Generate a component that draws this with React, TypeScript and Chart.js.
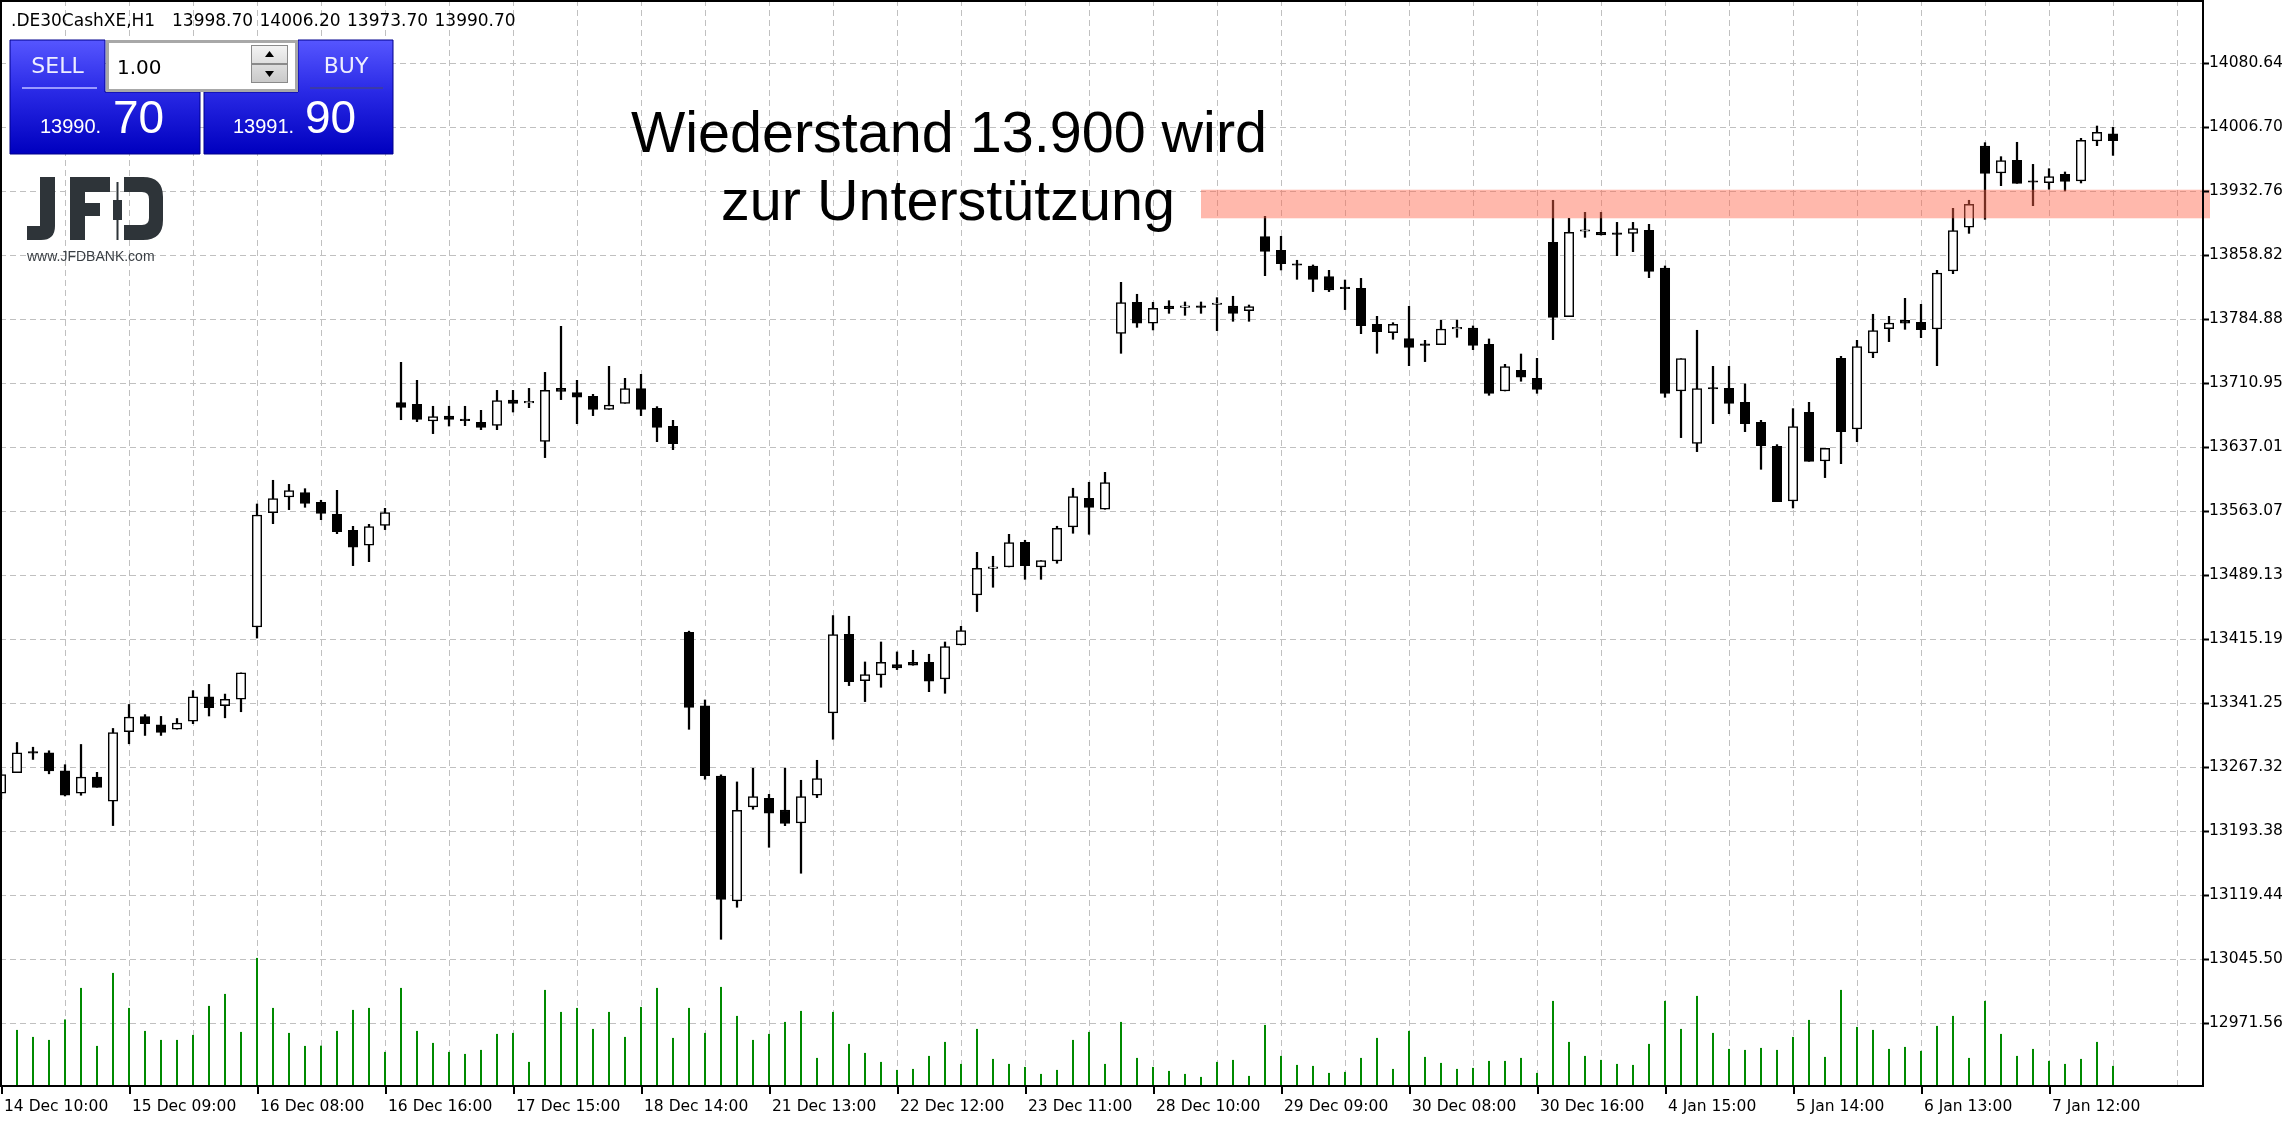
import React, { useEffect, useRef } from 'react';
import { Chart, registerables } from 'chart.js';

Chart.register(...registerables);

// ---------- data ----------
const opens = [
  13236.8, 13260.5, 13283.5, 13283.4, 13262.5, 13236.8, 13255.3, 13227.6, 13307.9, 13325.2,
  13315.9, 13310.8, 13320.0, 13348.1, 13338.0, 13345.3, 13428.8, 13560.9, 13579.0, 13584.0,
  13572.8, 13559.0, 13540.5, 13523.2, 13546.3, 13688.0, 13686.1, 13666.8, 13672.6, 13667.5,
  13665.3, 13661.8, 13691.1, 13687.8, 13643.3, 13704.5, 13699.5, 13695.3, 13680.3, 13687.2,
  13704.2, 13681.4, 13660.6, 13422.7, 13337.6, 13256.7, 13112.3, 13220.9, 13230.9, 13217.4,
  13202.4, 13234.4, 13329.5, 13420.4, 13366.9, 13373.4, 13385.3, 13388.0, 13388.0, 13368.8,
  13408.1, 13465.8, 13496.6, 13498.2, 13526.7, 13498.2, 13505.1, 13544.4, 13577.5, 13564.8,
  13768.1, 13803.9, 13779.7, 13799.7, 13798.1, 13798.3, 13801.4, 13799.7, 13794.3, 13879.8,
  13864.0, 13846.9, 13845.9, 13833.6, 13819.9, 13820.1, 13778.5, 13768.9, 13761.9, 13755.8,
  13755.0, 13773.3, 13774.3, 13755.4, 13701.5, 13725.4, 13716.1, 13873.2, 13787.4, 13886.0,
  13884.8, 13882.8, 13883.6, 13887.1, 13843.6, 13701.5, 13641.0, 13704.0, 13704.6, 13688.4,
  13665.3, 13637.6, 13574.4, 13676.8, 13620.6, 13739.2, 13657.6, 13745.4, 13773.5, 13783.1,
  13780.8, 13773.1, 13840.1, 13890.6, 13984.5, 13953.3, 13968.0, 13942.8, 13942.2, 13951.8,
  13944.1, 13990.3, 13998.7,
];
const highs = [
  13264.0, 13295.4, 13289.9, 13285.8, 13269.7, 13293.1, 13260.9, 13311.6, 13339.3, 13327.6,
  13325.5, 13323.1, 13355.3, 13362.5, 13351.3, 13375.8, 13570.9, 13598.3, 13593.6, 13588.6,
  13575.2, 13586.7, 13545.1, 13547.4, 13565.9, 13734.6, 13713.8, 13683.8, 13683.8, 13683.8,
  13679.1, 13702.2, 13702.2, 13704.5, 13723.0, 13776.2, 13713.8, 13697.6, 13730.0, 13716.1,
  13720.7, 13683.4, 13667.6, 13424.0, 13344.5, 13258.0, 13249.8, 13265.6, 13235.5, 13265.6,
  13251.7, 13274.8, 13442.0, 13441.2, 13388.4, 13411.5, 13400.0, 13401.9, 13397.3, 13411.5,
  13429.6, 13515.1, 13510.5, 13535.9, 13529.0, 13505.5, 13545.2, 13589.1, 13596.0, 13607.5,
  13827.0, 13813.2, 13803.9, 13805.8, 13804.3, 13804.3, 13809.3, 13810.9, 13800.8, 13903.3,
  13880.2, 13852.5, 13847.1, 13840.9, 13829.7, 13831.6, 13787.7, 13780.4, 13799.3, 13760.0,
  13783.1, 13783.5, 13776.6, 13761.6, 13732.3, 13744.2, 13739.2, 13921.8, 13901.0, 13907.9,
  13907.9, 13896.3, 13896.3, 13894.0, 13845.9, 13738.8, 13771.6, 13730.0, 13730.0, 13709.6,
  13667.6, 13639.5, 13681.1, 13688.4, 13635.2, 13741.5, 13760.0, 13790.1, 13787.7, 13808.5,
  13801.6, 13840.9, 13912.5, 13921.8, 13988.4, 13972.2, 13988.8, 13963.3, 13958.3, 13954.5,
  13993.4, 14007.6, 14006.2,
];
const lows = [
  13230.0, 13260.5, 13275.8, 13259.2, 13233.6, 13234.4, 13243.6, 13199.4, 13293.9, 13303.5,
  13303.5, 13310.8, 13317.1, 13326.0, 13323.9, 13330.9, 13416.0, 13548.2, 13564.4, 13567.1,
  13552.8, 13536.6, 13499.7, 13504.3, 13541.3, 13668.3, 13666.0, 13652.2, 13661.0, 13661.4,
  13656.8, 13656.8, 13677.2, 13682.2, 13624.5, 13691.5, 13663.7, 13673.0, 13680.3, 13687.2,
  13673.0, 13642.9, 13633.7, 13310.6, 13252.9, 13068.0, 13105.0, 13218.2, 13174.3, 13199.3,
  13144.3, 13231.7, 13299.1, 13361.1, 13342.6, 13359.2, 13379.6, 13384.6, 13354.1, 13352.2,
  13408.1, 13446.6, 13474.7, 13498.2, 13483.9, 13483.9, 13502.4, 13537.1, 13535.9, 13564.8,
  13745.0, 13775.0, 13772.0, 13791.2, 13788.9, 13791.2, 13771.2, 13782.0, 13782.0, 13834.7,
  13841.3, 13830.5, 13816.3, 13816.3, 13795.5, 13767.7, 13745.0, 13761.2, 13730.7, 13735.4,
  13755.0, 13763.5, 13749.2, 13696.5, 13701.5, 13712.7, 13698.8, 13760.8, 13787.4, 13879.0,
  13881.7, 13857.8, 13862.4, 13832.4, 13694.2, 13647.6, 13631.4, 13663.7, 13675.3, 13654.5,
  13611.0, 13573.6, 13566.3, 13620.2, 13601.4, 13617.5, 13642.9, 13740.0, 13758.5, 13772.7,
  13763.1, 13730.7, 13837.0, 13883.6, 13899.8, 13938.7, 13941.4, 13915.6, 13934.5, 13932.6,
  13941.8, 13984.9, 13973.7,
];
const closes = [
  13258.4, 13283.4, 13283.0, 13262.5, 13234.4, 13255.3, 13243.6, 13306.7, 13324.7, 13317.1,
  13307.1, 13317.9, 13348.1, 13335.6, 13345.3, 13375.8, 13558.2, 13577.1, 13586.3, 13571.7,
  13560.1, 13539.0, 13520.9, 13544.7, 13560.9, 13682.6, 13668.7, 13671.8, 13668.7, 13667.2,
  13659.5, 13690.3, 13687.2, 13688.0, 13702.2, 13701.1, 13694.2, 13680.3, 13685.3, 13704.2,
  13680.3, 13659.5, 13640.6, 13336.0, 13257.1, 13114.2, 13217.1, 13232.8, 13213.6, 13202.0,
  13232.8, 13253.6, 13420.0, 13365.7, 13373.8, 13388.0, 13381.5, 13384.6, 13366.1, 13406.1,
  13424.6, 13496.6, 13497.0, 13526.3, 13499.7, 13505.5, 13542.8, 13579.4, 13567.1, 13595.6,
  13803.5, 13779.7, 13797.0, 13796.6, 13798.4, 13798.1, 13801.6, 13791.2, 13798.9, 13862.8,
  13848.6, 13846.7, 13830.5, 13818.2, 13819.7, 13777.0, 13770.0, 13778.5, 13751.9, 13754.2,
  13773.1, 13773.5, 13754.2, 13698.8, 13729.6, 13717.3, 13703.4, 13786.6, 13884.8, 13886.3,
  13881.7, 13882.5, 13889.0, 13839.7, 13698.8, 13738.8, 13704.2, 13703.8, 13687.2, 13663.7,
  13638.3, 13573.6, 13660.3, 13620.2, 13635.2, 13654.5, 13752.7, 13771.2, 13780.0, 13779.7,
  13772.3, 13837.8, 13886.7, 13917.1, 13952.9, 13967.6, 13941.4, 13942.6, 13949.1, 13943.7,
  13991.1, 14000.3, 13990.7,
];
const volumes = [
  2400, 2230, 1950, 1830, 2650, 3910, 1590, 4510, 3110, 2190,
  1830, 1830, 2030, 3190, 3670, 2150, 5110, 3110, 2110, 1590,
  1600, 2190, 3030, 3110, 1350, 3910, 2190, 1710, 1350, 1270,
  1430, 2070, 2110, 950, 3830, 2950, 3110, 2270, 2950, 1950,
  3150, 3910, 1910, 3110, 2110, 3950, 2790, 1830, 2070, 2550,
  2990, 1110, 2950, 1670, 1310, 950, 630, 670, 1190, 1750,
  870, 2270, 1070, 870, 750, 470, 630, 1830, 2150, 870,
  2550, 1110, 750, 590, 470, 350, 950, 1030, 390, 2430,
  1190, 830, 790, 510, 550, 1110, 1910, 670, 2190, 1150,
  910, 670, 710, 990, 990, 1110, 510, 3390, 1750, 1190,
  1030, 870, 830, 1670, 3390, 2270, 3590, 2110, 1470, 1430,
  1510, 1430, 1950, 2630, 1150, 3830, 2350, 2230, 1470, 1550,
  1390, 2390, 2790, 1110, 3390, 2070, 1190, 1470, 990, 870,
  1070, 1750, 790,
];
const timeLabels = [
  '14 Dec 10:00', '15 Dec 09:00', '16 Dec 08:00', '16 Dec 16:00', '17 Dec 15:00',
  '18 Dec 14:00', '21 Dec 13:00', '22 Dec 12:00', '23 Dec 11:00', '28 Dec 10:00',
  '29 Dec 09:00', '30 Dec 08:00', '30 Dec 16:00', '4 Jan 15:00', '5 Jan 14:00',
  '6 Jan 13:00', '7 Jan 12:00',
];
const labelEvery = 8;
const priceTicks = [
  14080.64, 14006.70, 13932.76, 13858.82, 13784.88, 13710.95, 13637.01, 13563.07,
  13489.13, 13415.19, 13341.25, 13267.32, 13193.38, 13119.44, 13045.50, 12971.56,
];
const zoneLow = 13901;
const zoneHigh = 13934;
const zoneStartBar = 75;
const headerSymbol = '.DE30CashXE,H1';
const headerValues = ['13998.70', '14006.20', '13973.70', '13990.70'];
const noteLines = ['Wiederstand 13.900 wird', 'zur Unterstützung'];

// ---------- layout constants ----------
const W = 2294;
const H = 1126;
const PLOT_R = 2203;
const PLOT_B = 1086;

function drawWidget(ctx: CanvasRenderingContext2D) {
  const grad = ctx.createLinearGradient(0, 40, 0, 153);
  grad.addColorStop(0, '#5656ff');
  grad.addColorStop(0.45, '#2a2ae6');
  grad.addColorStop(1, '#0000bf');
  // left block
  ctx.fillStyle = grad;
  ctx.beginPath();
  ctx.moveTo(10, 40); ctx.lineTo(105, 40); ctx.lineTo(105, 92); ctx.lineTo(200, 92);
  ctx.lineTo(200, 154); ctx.lineTo(10, 154); ctx.closePath();
  ctx.fill();
  ctx.strokeStyle = '#00008c'; ctx.lineWidth = 1; ctx.stroke();
  // right block
  ctx.beginPath();
  ctx.moveTo(298, 40); ctx.lineTo(393, 40); ctx.lineTo(393, 154); ctx.lineTo(204, 154);
  ctx.lineTo(204, 92); ctx.lineTo(298, 92); ctx.closePath();
  ctx.fill(); ctx.stroke();
  // input box
  ctx.fillStyle = '#a8a8a8';
  ctx.fillRect(106, 40, 192, 52);
  ctx.fillStyle = '#ffffff';
  ctx.fillRect(109, 43, 186, 46);
  // spinner
  const sg = ctx.createLinearGradient(0, 45, 0, 83);
  sg.addColorStop(0, '#f4f4f4'); sg.addColorStop(1, '#c8c8c8');
  ctx.fillStyle = sg;
  ctx.fillRect(251, 45, 37, 18); ctx.fillRect(251, 65, 37, 18);
  ctx.strokeStyle = '#8a8a8a'; ctx.lineWidth = 1;
  ctx.strokeRect(251.5, 45.5, 36, 18); ctx.strokeRect(251.5, 64.5, 36, 18);
  ctx.fillStyle = '#000';
  ctx.beginPath(); ctx.moveTo(265, 57); ctx.lineTo(274, 57); ctx.lineTo(269.5, 51); ctx.closePath(); ctx.fill();
  ctx.beginPath(); ctx.moveTo(265, 71); ctx.lineTo(274, 71); ctx.lineTo(269.5, 77); ctx.closePath(); ctx.fill();
  ctx.font = '20px "DejaVu Sans"'; ctx.textAlign = 'left'; ctx.textBaseline = 'alphabetic';
  ctx.fillText('1.00', 117, 74);
  // labels
  ctx.fillStyle = '#eeeeff';
  ctx.font = '22px "DejaVu Sans"'; ctx.textAlign = 'center';
  ctx.fillText('SELL', 57.5, 73);
  ctx.fillText('BUY', 346, 73);
  ctx.fillStyle = '#9a9aff'; ctx.fillRect(22, 87, 75, 2);
  ctx.fillStyle = '#3a3aa8'; ctx.fillRect(310, 87, 73, 2);
  ctx.fillStyle = '#ffffff'; ctx.textAlign = 'left';
  ctx.font = '20px "Liberation Sans"';
  ctx.fillText('13990.', 40, 133);
  ctx.fillText('13991.', 233, 133);
  ctx.font = '46px "Liberation Sans"';
  ctx.fillText('70', 113, 133);
  ctx.fillText('90', 305, 133);
}

function drawLogo(ctx: CanvasRenderingContext2D) {
  ctx.fillStyle = '#2e3439';
  // J
  ctx.beginPath();
  ctx.moveTo(40, 177); ctx.lineTo(55, 177); ctx.lineTo(55, 226);
  ctx.quadraticCurveTo(55, 240, 41, 240); ctx.lineTo(27, 240); ctx.lineTo(27, 226);
  ctx.lineTo(40, 226); ctx.closePath(); ctx.fill();
  // F
  ctx.fillRect(70, 177, 15, 63);
  ctx.fillRect(70, 177, 40, 15);
  ctx.fillRect(70, 203, 30, 13);
  // candle
  ctx.fillRect(116.5, 182, 2, 58);
  ctx.fillRect(113, 200, 9, 20);
  // D
  ctx.beginPath();
  ctx.moveTo(124, 177); ctx.lineTo(143, 177);
  ctx.quadraticCurveTo(163, 177, 163, 197); ctx.lineTo(163, 220);
  ctx.quadraticCurveTo(163, 240, 143, 240); ctx.lineTo(124, 240); ctx.lineTo(124, 225);
  ctx.lineTo(142, 225); ctx.quadraticCurveTo(149, 225, 149, 218); ctx.lineTo(149, 199);
  ctx.quadraticCurveTo(149, 192, 142, 192); ctx.lineTo(124, 192); ctx.closePath();
  ctx.fill();
  ctx.font = '14px "Liberation Sans"'; ctx.textAlign = 'left'; ctx.textBaseline = 'alphabetic';
  ctx.fillStyle = '#3a3f44';
  ctx.fillText('www.JFDBANK.com', 27, 261);
}

const mt4Plugin = {
  id: 'mt4look',
  beforeDraw(chart: any) {
    const ctx = chart.ctx;
    ctx.save();
    ctx.fillStyle = '#ffffff';
    ctx.fillRect(0, 0, W, H);
    ctx.restore();
  },
  beforeDatasetsDraw(chart: any) {
    const ctx = chart.ctx as CanvasRenderingContext2D;
    const xs = chart.scales.x;
    const ys = chart.scales.y;
    const a = chart.chartArea;
    ctx.save();
    ctx.strokeStyle = '#c0c0c0';
    ctx.lineWidth = 1;
    ctx.setLineDash([6, 4]);
    for (let k = 4; k <= 136; k += 4) {
      const px = Math.round(xs.getPixelForValue(k)) + 0.5;
      if (px > a.right) break;
      ctx.beginPath(); ctx.moveTo(px, a.top); ctx.lineTo(px, a.bottom); ctx.stroke();
    }
    for (const p of priceTicks) {
      const py = Math.round(ys.getPixelForValue(p)) + 0.5;
      ctx.beginPath(); ctx.moveTo(a.left, py); ctx.lineTo(a.right, py); ctx.stroke();
    }
    ctx.restore();
  },
  afterDatasetsDraw(chart: any) {
    const ctx = chart.ctx as CanvasRenderingContext2D;
    const xs = chart.scales.x;
    const ys = chart.scales.y;
    ctx.save();
    // support zone
    const zx = xs.getPixelForValue(zoneStartBar);
    const zy1 = ys.getPixelForValue(zoneHigh);
    const zy2 = ys.getPixelForValue(zoneLow);
    ctx.fillStyle = 'rgba(255,100,75,0.46)';
    ctx.fillRect(zx, zy1, 2210 - zx, zy2 - zy1);
    // frame
    ctx.fillStyle = '#000';
    ctx.fillRect(0, 0, PLOT_R + 1, 2);
    ctx.fillRect(0, 0, 2, PLOT_B + 1);
    ctx.fillRect(PLOT_R - 1, 0, 2, PLOT_B + 1);
    ctx.fillRect(0, PLOT_B - 1, PLOT_R + 1, 2);
    // price axis
    ctx.font = '15.5px "DejaVu Sans"';
    ctx.textAlign = 'left';
    ctx.textBaseline = 'middle';
    for (const p of priceTicks) {
      const py = Math.round(ys.getPixelForValue(p));
      ctx.fillRect(PLOT_R, py - 0.5, 6, 2);
      ctx.fillText(p.toFixed(2), 2209, py);
    }
    // time axis
    ctx.textBaseline = 'alphabetic';
    timeLabels.forEach((lab, i) => {
      const px = Math.round(xs.getPixelForValue(i * labelEvery));
      ctx.fillRect(px, PLOT_B, 2, 8);
      ctx.fillText(lab, px + 3, 1111);
    });
    // note
    ctx.font = '57.5px "Liberation Sans"';
    ctx.textAlign = 'center';
    ctx.fillStyle = '#000';
    ctx.fillText(noteLines[0], 949, 152);
    ctx.fillText(noteLines[1], 948, 220);
    // header
    ctx.font = '17px "DejaVu Sans"';
    ctx.textAlign = 'left';
    ctx.fillText(headerSymbol, 11, 26);
    headerValues.forEach((v, i) => ctx.fillText(v, 172 + i * 87.5, 26));
    drawWidget(ctx);
    drawLogo(ctx);
    ctx.restore();
  },
};

export default function App() {
  const ref = useRef<HTMLCanvasElement | null>(null);
  useEffect(() => {
    if (!ref.current) return;
    const idx = opens.map((_, i) => i);
    const chart = new Chart(ref.current, {
      type: 'bar',
      data: {
        datasets: [
          {
            label: 'body',
            data: idx.map((i) => ({ x: i, y: [opens[i], closes[i]] })) as any,
            backgroundColor: idx.map((i) => (closes[i] >= opens[i] ? '#ffffff' : '#000000')),
            borderColor: '#000000',
            borderWidth: 1.5,
            borderSkipped: false,
            barThickness: 9.5,
            minBarLength: 1.5,
            grouped: false,
            order: 0,
            yAxisID: 'y',
          } as any,
          {
            label: 'wick',
            data: idx.map((i) => ({ x: i, y: [lows[i], highs[i]] })) as any,
            backgroundColor: '#000000',
            borderWidth: 0,
            barThickness: 1.6,
            grouped: false,
            order: 1,
            yAxisID: 'y',
          } as any,
          {
            label: 'volume',
            data: idx.map((i) => ({ x: i, y: volumes[i] })) as any,
            backgroundColor: '#008a00',
            borderWidth: 0,
            barThickness: 1.4,
            grouped: false,
            order: 2,
            yAxisID: 'yv',
          } as any,
        ],
      },
      options: {
        responsive: false,
        maintainAspectRatio: false,
        animation: false,
        devicePixelRatio: 1,
        events: [],
        layout: { padding: { left: 0, top: 0, right: W - PLOT_R, bottom: H - PLOT_B } },
        plugins: { legend: { display: false }, tooltip: { enabled: false } },
        scales: {
          x: { type: 'linear', min: -0.0625, max: 137.625, display: false, offset: false },
          y: { type: 'linear', min: 12898.5, max: 14153.2, display: false },
          yv: { type: 'linear', min: 0, max: 43440, display: false },
        },
      } as any,
      plugins: [mt4Plugin],
    });
    return () => chart.destroy();
  }, []);
  return (
    <div style={{ position: 'fixed', left: 0, top: 0, width: W, height: H, background: '#fff' }}>
      <canvas ref={ref} width={W} height={H} style={{ width: W, height: H, display: 'block' }} />
    </div>
  );
}
